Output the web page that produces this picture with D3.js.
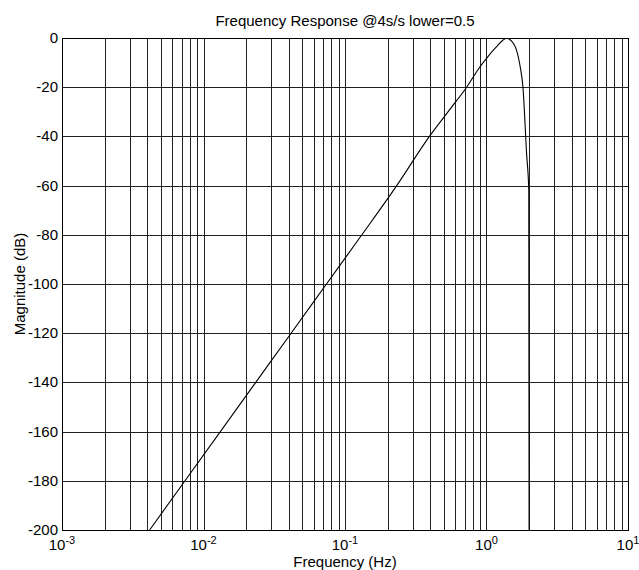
<!DOCTYPE html>
<html>
<head>
<meta charset="utf-8">
<script src="https://cdn.jsdelivr.net/npm/d3@7"></script>
<style>
	body { margin: 0; background: #fff; }
	text { font-family: "Liberation Sans", Arial, sans-serif; fill: #000; }
</style>
</head>
<body>
<svg width="639" height="570"></svg>
<script>
// values (Hz, dB)
const freqHz = [0.00416, 0.0074, 0.01316, 0.0234, 0.0416, 0.074, 0.1316, 0.232, 0.395, 0.56, 0.724, 0.9, 1.0, 1.117, 1.2, 1.3, 1.39, 1.46, 1.55, 1.63, 1.73, 1.81, 1.92, 1.99, 2.0];
const magDb = [-200, -180, -160, -140, -120, -100, -80, -60, -40, -28.5, -20, -11.7, -8.3, -4.9, -3, -1.0, 0, -0.6, -2.2, -4.9, -11.7, -20, -47, -62, -200];

const xDecades = [0.001, 0.01, 0.1, 1, 10];
const yTicks = [0, -20, -40, -60, -80, -100, -120, -140, -160, -180, -200];

const svg = d3.select("svg"),
	margin = {top: 38, right: 11, bottom: 40, left: 62},
	width = +svg.attr("width") - margin.left - margin.right,
	height = +svg.attr("height") - margin.top - margin.bottom;

const x = d3.scaleLog()
	.domain([0.001, 10])
	.range([0, width]);

const y = d3.scaleLinear()
	.domain([-200, 0])
	.range([height, 0]);

const g = svg.append("g")
	.attr("transform", "translate(" + margin.left + "," + margin.top + ")");

// minor + major log grid (1..9 per decade)
let gridX = [];
xDecades.slice(0, -1).forEach(function(d) {
	for (let k = 1; k <= 9; k++) gridX.push(d * k);
});
gridX.push(10);

g.selectAll("line.gx")
	.data(gridX)
	.enter().append("line")
	.attr("class", "gx")
	.attr("x1", function(d) { return Math.round(x(d)) + 0.5; })
	.attr("x2", function(d) { return Math.round(x(d)) + 0.5; })
	.attr("y1", 0)
	.attr("y2", height)
	.style("stroke", "#222")
	.style("stroke-width", 1);

g.selectAll("line.gy")
	.data(yTicks)
	.enter().append("line")
	.attr("class", "gy")
	.attr("x1", 0)
	.attr("x2", width)
	.attr("y1", function(d) { return Math.round(y(d)) + 0.5; })
	.attr("y2", function(d) { return Math.round(y(d)) + 0.5; })
	.style("stroke", "#222")
	.style("stroke-width", 1);

// the response curve
g.append("clipPath")
	.attr("id", "clip")
	.append("rect")
	.attr("width", width)
	.attr("height", height + 1);

const line = d3.line()
	.x(function(d, i) { return x(freqHz[i]); })
	.y(function(d) { return y(d); })
	.curve(d3.curveMonotoneX);

g.append("path")
	.datum(magDb)
	.attr("clip-path", "url(#clip)")
	.attr("d", line)
	.style("fill", "none")
	.style("stroke", "#000")
	.style("stroke-width", 1.1);

// box
g.append("rect")
	.attr("x", 0.5)
	.attr("y", 0.5)
	.attr("width", Math.round(width))
	.attr("height", Math.round(height))
	.style("fill", "none")
	.style("stroke", "#000")
	.style("stroke-width", 1);

// y tick labels
g.selectAll("text.yl")
	.data(yTicks)
	.enter().append("text")
	.attr("class", "yl")
	.attr("x", -4)
	.attr("y", function(d) { return y(d) + 5; })
	.attr("text-anchor", "end")
	.style("font-size", "15px")
	.text(function(d) { return d; });

// x tick labels: 10 with superscript exponent
const xl = g.selectAll("text.xl")
	.data(xDecades)
	.enter().append("text")
	.attr("class", "xl")
	.attr("x", function(d) { return x(d); })
	.attr("y", height + 20)
	.attr("text-anchor", "middle")
	.style("font-size", "15px");
xl.append("tspan").text("10");
xl.append("tspan")
	.attr("dy", -6)
	.style("font-size", "11px")
	.text(function(d) { return Math.round(Math.log10(d)); });

svg.append("text")
	.attr("x", margin.left + width / 2)
	.attr("y", 26)
	.attr("text-anchor", "middle")
	.style("font-size", "15px")
	.text("Frequency Response @4s/s lower=0.5");

svg.append("text")
	.attr("x", margin.left + width / 2)
	.attr("y", 567)
	.attr("text-anchor", "middle")
	.style("font-size", "15px")
	.text("Frequency (Hz)");

svg.append("text")
	.attr("transform", "translate(25," + (margin.top + height / 2) + ") rotate(-90)")
	.attr("text-anchor", "middle")
	.style("font-size", "15px")
	.text("Magnitude (dB)");
</script>
</body>
</html>
